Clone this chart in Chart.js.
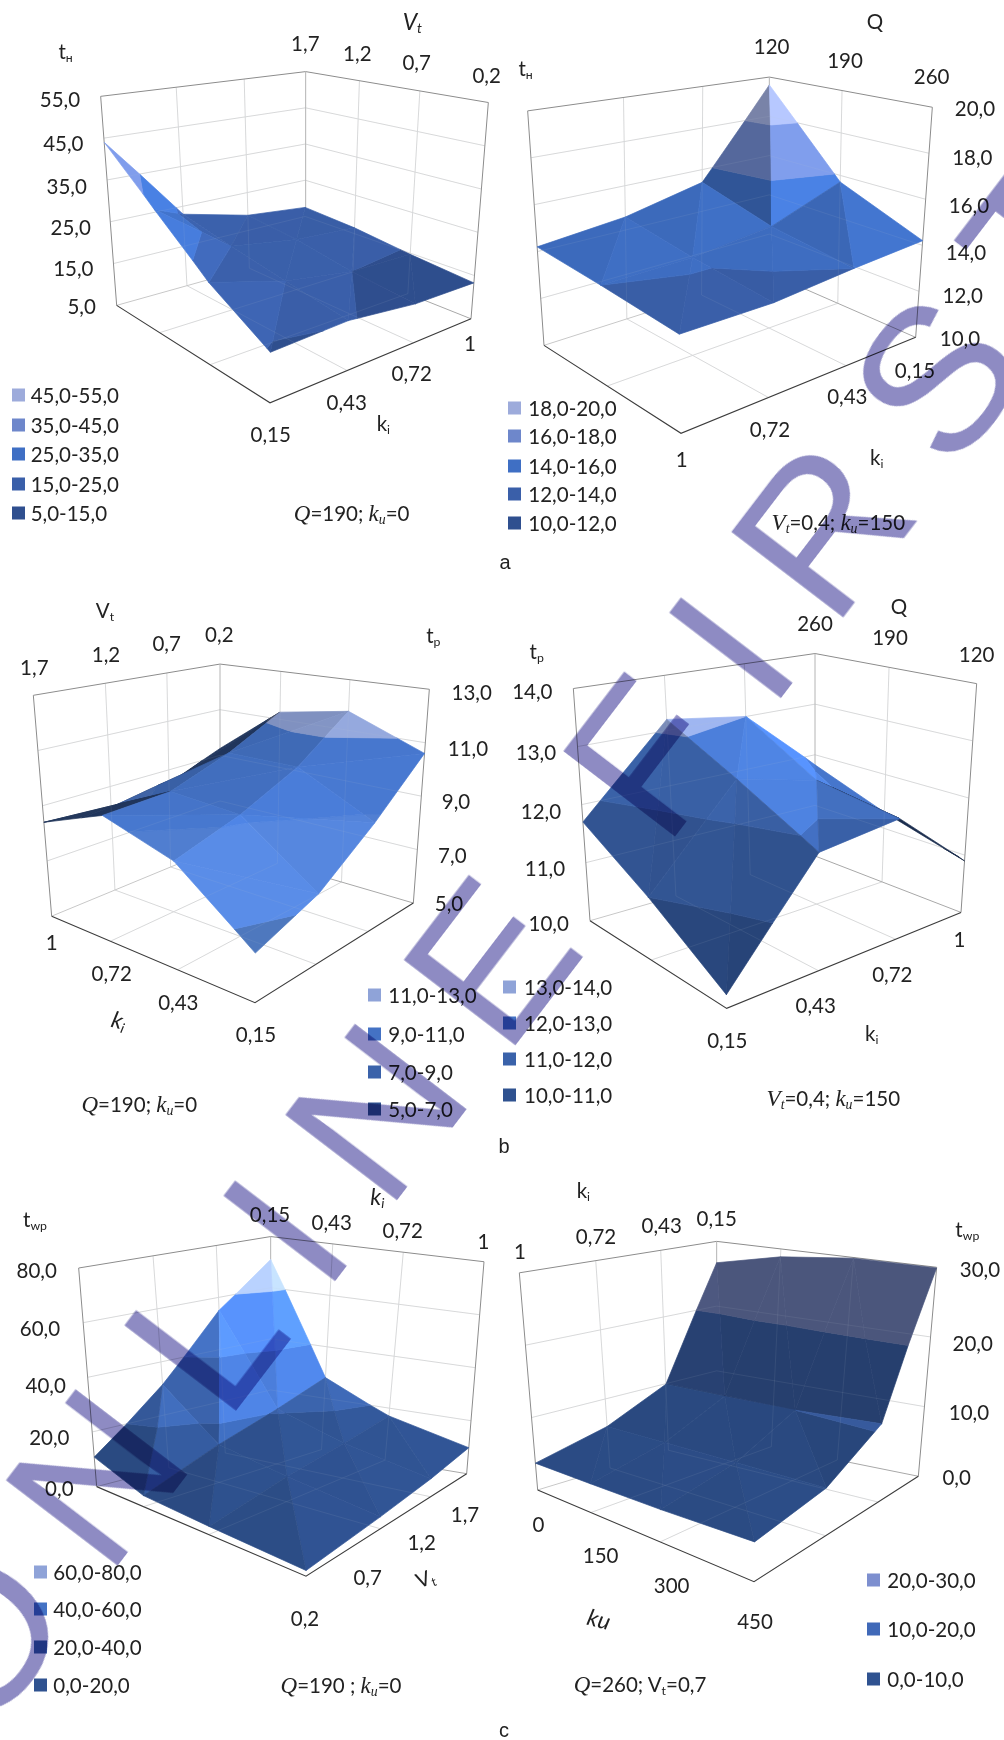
<!DOCTYPE html>
<html>
<head>
<meta charset="utf-8">
<title>Surface charts</title>
<script src="https://cdn.jsdelivr.net/npm/chart.js@4"></script>
<style>
  html, body { margin: 0; background: #fff; }
  #page { position: relative; width: 1004px; height: 1740px; overflow: hidden; font-family: Lato, sans-serif; color: #222; }
  canvas { position: absolute; }
  .t { position: absolute; font-size: 20.5px; line-height: 1; white-space: nowrap; transform: translate(-50%, -50%); }
  .leg { position: absolute; font-size: 20.5px; line-height: 1; white-space: nowrap; transform: translateY(-50%); }
  .sw { position: absolute; width: 13px; height: 13px; transform: translateY(-50%); }
  .t sub { font-size: 60%; line-height: 0; vertical-align: -0.25em; }
  .t i { font-family: "Liberation Serif", serif; font-size: 112%; }
  .t em { font-size: 112%; }
  .letter { position: absolute; font: 20px "Liberation Sans", sans-serif; line-height: 1; transform: translate(-50%, -50%); }
  #mark { position: absolute; left: -18px; top: 1743px; transform-origin: 0 0; transform: rotate(-52.6deg) translateY(-71px); mix-blend-mode: multiply;
    color: #8e8bc3; font: 205px "Liberation Sans", sans-serif; line-height: 0; letter-spacing: 47px; word-spacing: -25px; white-space: pre; }
</style>
</head>
<body>
<div id="page"></div>
<script>
// values, rows run front -> right, columns front -> left
const a1Surface = [
  [14.6, 22, 32.5, 44],
  [15.2, 17.5, 20, 23],
  [13.5, 15, 17.5, 19],
  [13.3, 14.7, 16.5, 17.5],
];
const a2Surface = [
  [13.7, 14.0, 14.2],
  [13.7, 14.1, 14.6],
  [14.0, 14.5, 15.4],
  [14.2, 15.7, 19.6],
];
const b1Surface = [
  [6.5, 8.5, 9.3, 8.4],
  [7.3, 9.2, 9.4, 8.2],
  [8.8, 10.2, 10.2, 8.45],
  [10.6, 11.75, 11.3, 9.3],
];
const b2Surface = [
  [10.2, 11.0, 11.7],
  [11.85, 12.55, 13.2],
  [12.0, 12.2, 13.0],
  [10.9, 11.3, 11.8],
];
const c1Surface = [
  [1.7, 2.7, 3.9, 10.8],
  [4, 9, 14, 31.4],
  [6.5, 13, 21, 55],
  [9.8, 17, 28, 71],
];
const c2Surface = [
  [4.5, 4, 3.8, 3.7],
  [6, 6, 6, 6],
  [10.6, 10.0, 9.9, 9.9],
  [29.9, 29.9, 28.8, 26.7],
];

const a1Z = [5, 15, 25, 35, 45, 55];
const a2Z = [10, 12, 14, 16, 18, 20];
const b1Z = [5, 7, 9, 11, 13];
const b2Z = [10, 11, 12, 13, 14];
const c1Z = [0, 20, 40, 60, 80];
const c2Z = [0, 10, 20, 30];

const kiUp = ["0,15", "0,43", "0,72", "1"];
const kiDown = ["1", "0,72", "0,43", "0,15"];
const vtDown = ["1,7", "1,2", "0,7", "0,2"];
const qUp = ["120", "190", "260"];
const qDown = ["260", "190", "120"];
const kuUp = ["0", "150", "300", "450"];

// band colours, lowest band first
const legendA = ["#2f4f8f", "#3a5fa9", "#3f6fc4", "#6e87cb", "#9dabdb"];
const legendB1 = ["#2f5290", "#3a62aa", "#4472c4", "#8fa3d8"];
const surfaceB1 = ["#456aa8", "#4f7ccd", "#4676cc", "#93a7dc"];
const legendB2 = ["#2f5290", "#3a62aa", "#4472c4", "#8fa3d8"];
const legendC1 = ["#2f5290", "#3a62aa", "#4472c4", "#8fa3d8"];
const legendC2 = ["#2f5290", "#4069b8", "#7d8fcf"];

// layout was traced on crops viewed 3x wide and 1568 tall, so it is in those crop units
const panels = [
  {
    canvas: [0, 0, 500, 570], surface: a1Surface, z: a1Z, legend: legendA, fills: legendA, diag: "fb", light: 0.12, edge: 0,
    box: { fl: [350, 840], ff: [810, 1108], fr: [1413, 877], fb: [915, 695], tl: [302, 265], tf: [816, 384], tr: [1465, 282], tb: [917, 197] },
    zPos: [[245, 841], [220, 737], [212, 625], [200, 513], [190, 393], [180, 272]],
    top: vtDown, topPos: [[916, 118], [1072, 146], [1250, 171], [1460, 206]],
    bottom: kiDown, bottomPos: [[1410, 943], [1235, 1027], [1040, 1105], [812, 1193]],
    titles: [["t<sub>н</sub>", 197, 140], ["<em>V<sub>t</sub></em>", 1237, 58], ["k<sub>i</sub>", 1150, 1163]],
    caption: ["<i>Q</i>=190; <i>k<sub>u</sub></i>=0", 1055, 1413],
    swatchX: 35, textX: 92, rows: [1412, 1331, 1250, 1168, 1087],
  },
  {
    canvas: [500, 0, 504, 570], surface: a2Surface, z: a2Z, legend: legendA, fills: legendA, diag: "fb", light: 0.28, edge: 0,
    box: { fl: [132, 950], ff: [543, 1192], fr: [1247, 928], fb: [808, 752], tl: [83, 305], tf: [529, 455], tr: [1297, 295], tb: [808, 212] },
    zPos: [[1380, 930], [1388, 812], [1398, 692], [1407, 565], [1417, 433], [1425, 298]],
    top: qUp, topPos: [[815, 127], [1035, 165], [1295, 210]],
    bottom: kiUp, bottomPos: [[1245, 1018], [1042, 1090], [810, 1180], [545, 1262]],
    titles: [["t<sub>н</sub>", 77, 187], ["Q", 1125, 57], ["k<sub>i</sub>", 1130, 1257]],
    caption: ["<i>V<sub>t</sub></i>=0,4; <i>k<sub>u</sub></i>=150", 1015, 1440],
    swatchX: 23, textX: 85, rows: [1440, 1360, 1281, 1200, 1123],
  },
  {
    canvas: [0, 570, 500, 590], surface: b1Surface, z: b1Z, legend: legendB1, fills: surfaceB1, diag: "lr", light: 0.2, edge: 0.4,
    box: { fl: [155, 920], ff: [765, 1150], fr: [1240, 885], fb: [660, 735], tl: [100, 333], tf: [770, 447], tr: [1288, 317], tb: [660, 250] },
    zPos: [[1347, 885], [1357, 757], [1368, 615], [1404, 473], [1415, 323]],
    top: vtDown, topPos: [[103, 257], [318, 222], [500, 195], [658, 170]],
    bottom: kiDown, bottomPos: [[155, 988], [335, 1070], [535, 1147], [768, 1233]],
    titles: [["t<sub>р</sub>", 1300, 172], ["V<sub>t</sub>", 315, 105], ["<em>k<sub>i</sub></em>", 358, 1195, 15]],
    caption: ["<i>Q</i>=190; <i>k<sub>u</sub></i>=0", 418, 1423],
    swatchX: 1105, textX: 1165, rows: [1433, 1333, 1233, 1130],
  },
  {
    canvas: [500, 570, 504, 590], surface: b2Surface, z: b2Z, legend: legendB2, fills: legendB2, diag: "fb", light: 0.28, edge: 0.3,
    box: { fl: [270, 932], ff: [680, 1165], fr: [1383, 910], fb: [945, 760], tl: [220, 315], tf: [663, 437], tr: [1430, 302], tb: [945, 222] },
    zPos: [[146, 937], [135, 793], [123, 640], [108, 483], [97, 322]],
    top: qDown, topPos: [[945, 140], [1170, 178], [1430, 222]],
    bottom: kiDown, bottomPos: [[1378, 980], [1177, 1073], [947, 1155], [682, 1250]],
    titles: [["t<sub>р</sub>", 110, 215], ["Q", 1197, 95], ["k<sub>i</sub>", 1115, 1230]],
    caption: ["<i>V<sub>t</sub></i>=0,4; <i>k<sub>u</sub></i>=150", 1000, 1405],
    swatchX: 10, textX: 72, rows: [1394, 1299, 1204, 1108],
  },
  {
    canvas: [0, 1160, 500, 580], surface: c1Surface, z: c1Z, legend: legendC1, fills: legendC1, diag: "fb", light: 0.28, edge: 0,
    box: { fl: [290, 883], ff: [918, 1125], fr: [1400, 848], fb: [812, 760], tl: [236, 292], tf: [927, 408], tr: [1452, 275], tb: [812, 207] },
    zPos: [[178, 887], [148, 750], [137, 607], [120, 455], [110, 298]],
    top: kiUp, topPos: [[810, 145], [995, 167], [1208, 188], [1450, 218]],
    bottom: vtDown, bottomPos: [[1395, 957], [1265, 1033], [1103, 1127], [915, 1237]],
    titles: [["t<sub>wp</sub>", 105, 160], ["<em>k<sub>i</sub></em>", 1132, 97], ["V<sub>t</sub>", 1275, 1130, -20]],
    caption: ["<i>Q</i>=190 ; <i>k<sub>u</sub></i>=0", 1023, 1422],
    swatchX: 102, textX: 160, rows: [1420, 1317, 1215, 1113],
  },
  {
    canvas: [500, 1160, 504, 580], surface: c2Surface, z: c2Z, legend: legendC2, fills: legendC2, diag: "fb", light: 0.28, edge: 0.4,
    box: { fl: [113, 892], ff: [762, 1140], fr: [1255, 855], fb: [650, 745], tl: [58, 305], tf: [773, 423], tr: [1310, 290], tb: [650, 220] },
    zPos: [[1370, 857], [1407, 682], [1418, 495], [1440, 295]],
    top: kiDown, topPos: [[60, 247], [288, 205], [485, 177], [650, 157]],
    bottom: kuUp, bottomPos: [[115, 985], [302, 1067], [515, 1150], [765, 1247]],
    titles: [["t<sub>wp</sub>", 1402, 187], ["k<sub>i</sub>", 250, 82], ["<em>ku</em>", 297, 1240, 15]],
    caption: ["<i>Q</i>=260; V<sub>t</sub>=0,7", 420, 1418],
    swatchX: 1100, textX: 1162, rows: [1403, 1268, 1135],
  },
];
const sectionLetters = [["a", 505, 562], ["b", 504, 1146], ["c", 504, 1730]];
const watermark = "ONLINE FIRST";

const page = document.getElementById("page");
const fmt = (v) => v.toFixed(1).replace(".", ",");

function addText(cls, html, x, y, rot) {
  const el = document.createElement("div");
  el.className = cls;
  el.innerHTML = html;
  el.style.left = x + "px";
  el.style.top = y + "px";
  if (rot) el.style.transform = "translate(-50%,-50%) rotate(" + rot + "deg)";
  page.appendChild(el);
  return el;
}

// unit square -> quad, u runs front->right, v runs front->left
function squareToQuad(f, r, b, l) {
  const dx1 = r[0] - b[0], dx2 = l[0] - b[0], sx = f[0] - r[0] + b[0] - l[0];
  const dy1 = r[1] - b[1], dy2 = l[1] - b[1], sy = f[1] - r[1] + b[1] - l[1];
  const det = dx1 * dy2 - dx2 * dy1;
  const g = (sx * dy2 - dx2 * sy) / det;
  const h = (dx1 * sy - sx * dy1) / det;
  const a = r[0] - f[0] + g * r[0], bb = l[0] - f[0] + h * l[0];
  const d = r[1] - f[1] + g * r[1], e = l[1] - f[1] + h * l[1];
  return (u, v) => {
    const w = g * u + h * v + 1;
    return [(a * u + bb * v + f[0]) / w, (d * u + e * v + f[1]) / w];
  };
}

function clipBand(poly, lo, hi) {
  const cut = (pts, limit, keepAbove) => {
    const out = [];
    pts.forEach((p, k) => {
      const q = pts[(k + 1) % pts.length];
      const inP = keepAbove ? p.z >= limit : p.z <= limit;
      const inQ = keepAbove ? q.z >= limit : q.z <= limit;
      if (inP) out.push(p);
      if (inP !== inQ) {
        const t = (limit - p.z) / (q.z - p.z);
        out.push({ u: p.u + t * (q.u - p.u), v: p.v + t * (q.v - p.v), z: limit });
      }
    });
    return out;
  };
  return cut(cut(poly, lo, true), hi, false);
}

function shadeColor(hex, s) {
  const n = parseInt(hex.slice(1), 16);
  const ch = (c) => Math.min(255, Math.round(c * s));
  return "rgb(" + ch(n >> 16) + "," + ch((n >> 8) & 255) + "," + ch(n & 255) + ")";
}

function buildDatasets(p, project) {
  const sets = [];
  const zMin = p.z[0], zMax = p.z[p.z.length - 1];
  const line = (pts, color, width) => sets.push({
    data: pts.map((q) => ({ x: q[0], y: q[1] })), showLine: true, pointRadius: 0,
    borderColor: color, borderWidth: width, fill: false, clip: false,
  });
  const rows = p.surface.length, cols = p.surface[0].length;
  const uAt = (i) => i / (rows - 1), vAt = (j) => j / (cols - 1);
  const gridLines = (color) => {
    for (let i = 1; i < rows - 1; i++) {
      line([project(uAt(i), 1, zMin), project(uAt(i), 1, zMax)], color, 1);
      line([project(uAt(i), 0, zMin), project(uAt(i), 1, zMin)], color, 1);
    }
    for (let j = 1; j < cols - 1; j++) {
      line([project(1, vAt(j), zMin), project(1, vAt(j), zMax)], color, 1);
      line([project(0, vAt(j), zMin), project(1, vAt(j), zMin)], color, 1);
    }
    p.z.slice(1, -1).forEach((z) => {
      line([project(0, 1, z), project(1, 1, z), project(1, 0, z)], color, 1);
    });
  };
  gridLines("#dcdcdc");
  line([project(0, 1, zMin), project(1, 1, zMin)], "#c8c8c8", 1);
  line([project(1, 0, zMin), project(1, 1, zMin)], "#a8a8a8", 1);
  line([project(0, 1, zMin), project(0, 1, zMax), project(1, 1, zMax), project(1, 0, zMax), project(1, 0, zMin)], "#8c8c8c", 1);
  line([project(1, 1, zMin), project(1, 1, zMax)], "#b4b4b4", 1);
  line([project(0, 1, zMin), project(0, 0, zMin), project(1, 0, zMin)], "#3c3c3c", 1.1);

  // surface facets split by z band, back facets go first
  const tris = [];
  for (let i = 0; i < rows - 1; i++) {
    for (let j = 0; j < cols - 1; j++) {
      const c = (a, b) => ({ u: uAt(a), v: vAt(b), z: p.surface[a][b] });
      const f = c(i, j), r = c(i + 1, j), b = c(i + 1, j + 1), l = c(i, j + 1);
      if (p.diag === "fb") tris.push([f, r, b], [f, b, l]);
      else tris.push([f, r, l], [r, b, l]);
    }
  }
  const depth = (t) => t[0].u + t[1].u + t[2].u + t[0].v + t[1].v + t[2].v;
  tris.sort((s, t) => depth(t) - depth(s));
  const span = zMax - zMin;
  const area = (pts) => (pts[1][0] - pts[0][0]) * (pts[2][1] - pts[0][1]) - (pts[2][0] - pts[0][0]) * (pts[1][1] - pts[0][1]);
  tris.forEach((t) => {
    // plane slope in unit box coordinates gives the facet lighting
    const [p0, p1, p2] = t;
    const du1 = p1.u - p0.u, dv1 = p1.v - p0.v, dz1 = (p1.z - p0.z) / span;
    const du2 = p2.u - p0.u, dv2 = p2.v - p0.v, dz2 = (p2.z - p0.z) / span;
    const det = du1 * dv2 - du2 * dv1;
    const a = (dz1 * dv2 - dz2 * dv1) / det, b = (du1 * dz2 - du2 * dz1) / det;
    let s = 0.97 - p.light * (a - b) + 0.07 * (a + b);
    s = Math.max(0.6, Math.min(1.4, s));
    const flat = t.map((q) => project(q.u, q.v, zMin));
    const lifted = t.map((q) => project(q.u, q.v, q.z));
    // facets seen edge on or from below are nearly black in the reference
    if (area(lifted) / area(flat) < p.edge) s = 0.45;
    p.fills.forEach((hex, k) => {
      const poly = clipBand(t, p.z[k], p.z[k + 1]);
      if (poly.length < 3) return;
      const pts = poly.map((q) => project(q.u, q.v, q.z));
      pts.push(pts[0]);
      const color = shadeColor(hex, s);
      sets.push({
        data: pts.map((q) => ({ x: q[0], y: q[1] })), showLine: true, pointRadius: 0,
        borderColor: color, borderWidth: 0.7, backgroundColor: color, fill: "shape", clip: false,
      });
    });
  });
  // walls show faintly through the surface
  gridLines("rgba(190,195,210,0.1)");
  // chart draws the last order first
  sets.forEach((d, k) => { d.order = -k; });
  return sets;
}

panels.forEach((p, n) => {
  const [ox, oy, w, h] = p.canvas;
  const toPx = (q) => [q[0] / 3, q[1] * h / 1568];
  const box = p.box;
  const floor = squareToQuad(toPx(box.ff), toPx(box.fr), toPx(box.fb), toPx(box.fl));
  const ceil = squareToQuad(toPx(box.tf), toPx(box.tr), toPx(box.tb), toPx(box.tl));
  const zMin = p.z[0], zMax = p.z[p.z.length - 1];
  const project = (u, v, z) => {
    const a = floor(u, v), b = ceil(u, v), t = (z - zMin) / (zMax - zMin);
    return [a[0] + t * (b[0] - a[0]), a[1] + t * (b[1] - a[1])];
  };

  const canvas = document.createElement("canvas");
  canvas.id = "chart" + n;
  canvas.width = w;
  canvas.height = h;
  canvas.style.left = ox + "px";
  canvas.style.top = oy + "px";
  canvas.style.width = w + "px";
  canvas.style.height = h + "px";
  page.appendChild(canvas);

  new Chart(canvas.getContext("2d"), {
    type: "scatter",
    data: { datasets: buildDatasets(p, project) },
    options: {
      responsive: false,
      animation: false,
      layout: { padding: 0 },
      plugins: { legend: { display: false }, tooltip: { enabled: false } },
      elements: { line: { tension: 0 } },
      scales: {
        x: { type: "linear", min: 0, max: w, display: false },
        y: { type: "linear", min: 0, max: h, reverse: true, display: false },
      },
    },
  });

  const at = (q) => { const c = toPx(q); return [ox + c[0], oy + c[1]]; };
  p.z.forEach((z, k) => { const c = at(p.zPos[k]); addText("t", fmt(z), c[0], c[1]); });
  p.top.forEach((s, k) => { const c = at(p.topPos[k]); addText("t", s, c[0], c[1]); });
  p.bottom.forEach((s, k) => { const c = at(p.bottomPos[k]); addText("t", s, c[0], c[1]); });
  p.titles.forEach((s) => { const c = at([s[1], s[2]]); addText("t", s[0], c[0], c[1], s[3]); });
  const cap = at([p.caption[1], p.caption[2]]);
  addText("t", p.caption[0], cap[0], cap[1]);
  p.legend.forEach((hex, k) => {
    const sw = at([p.swatchX, p.rows[k]]);
    const sq = document.createElement("div");
    sq.className = "sw";
    sq.style.left = sw[0] + "px";
    sq.style.top = sw[1] + "px";
    sq.style.background = hex;
    page.appendChild(sq);
    const tx = at([p.textX, p.rows[k]]);
    addText("leg", fmt(p.z[k]) + "-" + fmt(p.z[k + 1]), tx[0], tx[1]);
  });
});

sectionLetters.forEach((s) => addText("letter", s[0], s[1], s[2]));

const mark = document.createElement("div");
mark.id = "mark";
mark.textContent = watermark;
page.appendChild(mark);
</script>
</body>
</html>
